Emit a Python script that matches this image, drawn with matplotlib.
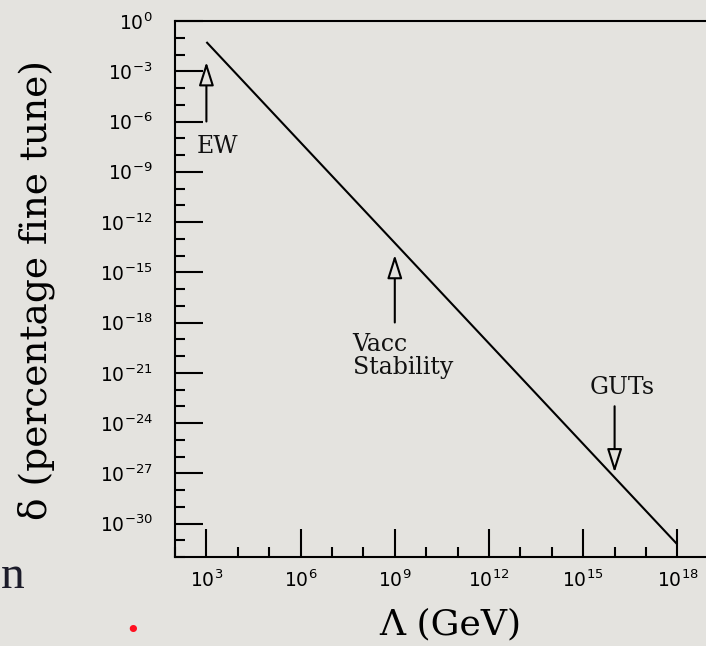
import math
import matplotlib
matplotlib.use("Agg")
import matplotlib.pyplot as plt
from matplotlib.ticker import FixedLocator, FuncFormatter, NullFormatter

# curve: delta ~ Lambda^-2
lam = [1e3, 1e18]
delta = [5.6e-2, 5.6e-32]

x_major = [1e3, 1e6, 1e9, 1e12, 1e15, 1e18]
x_minor = [10.0**k for k in range(2, 21)]
y_major = [10.0**k for k in range(0, -31, -3)]
y_minor = [10.0**k for k in range(0, -33, -1)]

# arrows: (x, tail y, tip y)
arrows = [
    (1e3, 1e-6, 3.6e-3),      # EW
    (1e9, 1e-18, 1.1e-14),    # Vacc Stability
    (1e16, 1e-23, 1.1e-27),   # GUTs
]
labels = ["EW", "Vacc\nStability", "GUTs"]
label_pos = [(4.8e2, 3.1e-8), (4.5e7, 1.0e-20), (1.6e15, 1.3e-22)]

BG = "#e4e3df"

fig = plt.figure(figsize=(7.06, 6.46), dpi=100, facecolor=BG)
ax = fig.add_axes([175 / 706, 89 / 646, 565.2 / 706, 536 / 646])
ax.set_facecolor(BG)

ax.set_xscale("log")
ax.set_yscale("log")
ax.set_xlim(1e2, 1e20)
ax.set_ylim(1e-32, 1e0)

ax.plot(lam, delta, color="black", lw=1.5, solid_capstyle="butt")

for (x, y0, y1) in arrows:
    ax.annotate("", xy=(x, y1), xytext=(x, y0),
                arrowprops=dict(arrowstyle="-|>,head_length=1.2,head_width=0.38",
                                fc=BG, ec="black", lw=1.5,
                                shrinkA=0, shrinkB=0, mutation_scale=12))

for txt, (x, y) in zip(labels, label_pos):
    ax.text(x, y, txt, ha="left", va="center", fontsize=17,
            family="DejaVu Serif", linespacing=1.05, color="#111111")

exp_fmt = FuncFormatter(lambda v, p: r"$10^{%d}$" % round(math.log10(v)))
ax.xaxis.set_major_locator(FixedLocator(x_major))
ax.xaxis.set_minor_locator(FixedLocator(x_minor))
ax.yaxis.set_major_locator(FixedLocator(y_major))
ax.yaxis.set_minor_locator(FixedLocator(y_minor))
ax.xaxis.set_major_formatter(exp_fmt)
ax.yaxis.set_major_formatter(exp_fmt)
ax.xaxis.set_minor_formatter(NullFormatter())
ax.yaxis.set_minor_formatter(NullFormatter())

ax.tick_params(which="both", direction="in", width=1.5, color="black",
               top=False, right=False, labelsize=13.5)
ax.tick_params(which="major", length=20)
ax.tick_params(which="minor", length=7.5)
ax.tick_params(axis="x", pad=9)
ax.tick_params(axis="y", pad=16)

for s in ax.spines.values():
    s.set_linewidth(1.5)

fig.text(36 / 706, 1 - 290 / 646, "δ (percentage fine tune)", rotation=90,
         ha="center", va="center", fontsize=27, family="DejaVu Serif")
fig.text(450 / 706, 1 - 624 / 646, "Λ (GeV)", ha="center", va="center",
         fontsize=26, family="DejaVu Serif")

# bits of the surrounding slide
fig.text(1 / 706, 1 - 588 / 646, "n", ha="left", va="baseline", fontsize=34,
         family="Liberation Serif", color="#1c1c2a")
fig.text(133 / 706, 1 - 631 / 646, "•", ha="center", va="center", fontsize=18,
         color="#ff1020")

fig.savefig("out.png", dpi=100, facecolor=BG)
